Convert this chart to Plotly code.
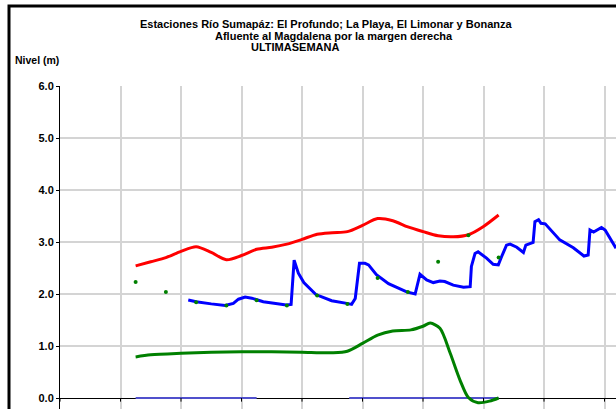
import plotly.graph_objects as go

# ---- data (x in day units along the week axis, y = level in metres) ----
red_x = [1.25, 1.5, 1.75, 2.0, 2.25, 2.5, 2.75, 3.0, 3.25, 3.5, 3.75, 4.0, 4.25,
         4.5, 4.75, 5.0, 5.25, 5.5, 5.75, 6.0, 6.25, 6.5, 6.75, 7.0, 7.25]
red_y = [2.54, 2.62, 2.70, 2.82, 2.91, 2.80, 2.66, 2.74, 2.86, 2.90, 2.96, 3.05, 3.15,
         3.18, 3.20, 3.32, 3.45, 3.41, 3.29, 3.20, 3.12, 3.10, 3.14, 3.30, 3.52]

green_x = [1.25, 1.5, 2.0, 2.5, 3.0, 3.5, 4.0, 4.5, 4.75, 5.0, 5.25, 5.5, 5.8,
           6.0, 6.12, 6.28, 6.45, 6.61, 6.75, 6.91, 7.1, 7.25]
green_y = [0.79, 0.83, 0.86, 0.88, 0.89, 0.89, 0.88, 0.87, 0.90, 1.05, 1.21, 1.29, 1.31,
           1.38, 1.44, 1.34, 0.86, 0.35, 0.01, -0.09, -0.06, 0.0]

dots_x = [1.25, 1.75, 2.25, 2.75, 3.25, 3.75, 4.25, 4.75, 5.25, 5.75, 6.25, 6.75, 7.25]
dots_y = [2.23, 2.04, 1.84, 1.78, 1.88, 1.78, 1.97, 1.81, 2.31, 2.04, 2.62, 3.13, 2.70]

blue_x = [2.12, 2.25, 2.5, 2.73, 2.865, 2.95, 3.06, 3.17, 3.36, 3.58, 3.74, 3.82,
          3.87, 3.94, 4.03, 4.23, 4.49, 4.74, 4.82, 4.88, 4.95, 5.04, 5.10, 5.23,
          5.43, 5.73, 5.87, 5.95, 6.06, 6.17, 6.28, 6.36, 6.50, 6.67, 6.78, 6.80,
          6.86, 6.91, 7.05, 7.16, 7.245, 7.30, 7.38, 7.44, 7.55, 7.66, 7.70, 7.82,
          7.85, 7.91, 7.95, 8.02, 8.13, 8.26, 8.485, 8.57, 8.66, 8.73, 8.76, 8.82,
          8.95, 9.01, 9.09, 9.19]
blue_y = [1.885, 1.85, 1.81, 1.78, 1.82, 1.90, 1.94, 1.92, 1.85, 1.82, 1.79, 1.80,
          2.65, 2.40, 2.22, 1.99, 1.87, 1.82, 1.80, 1.915, 2.59, 2.59, 2.56, 2.37,
          2.20, 2.04, 2.00, 2.38, 2.27, 2.22, 2.25, 2.24, 2.17, 2.13, 2.14, 2.53,
          2.78, 2.81, 2.69, 2.57, 2.56, 2.72, 2.94, 2.96, 2.90, 2.80, 2.94, 2.99,
          3.39, 3.43, 3.36, 3.35, 3.20, 3.04, 2.89, 2.81, 2.73, 2.75, 3.23, 3.19,
          3.28, 3.23, 3.07, 2.88]

zero_x = [1.25, 3.25, 3.26, 4.78, 7.25]
zero_y = [0.0, 0.0, None, 0.0, 0.0]

y_ticks = [0, 1, 2, 3, 4, 5, 6]
y_labels = ["0.0", "1.0", "2.0", "3.0", "4.0", "5.0", "6.0"]
x_grid = [0, 1, 2, 3, 4, 5, 6, 7, 8, 9]

title_lines = ["Estaciones Río Sumapáz: El Profundo; La Playa, El Limonar y Bonanza",
               "Afluente al Magdalena por la margen derecha",
               "ULTIMASEMANA"]
y_title = "Nivel (m)"

# ---- layout geometry ----
W, H = 616, 409
ML, MT, MR, MB = 60, 86, 0, 0
PW, PH = W - ML - MR, H - MT - MB


def px(xp):
    return (xp - ML) / PW


def py(yp):
    return (H - MB - yp) / PH


FONT = "Liberation Sans, Arial, sans-serif"

fig = go.Figure()
fig.add_trace(go.Scatter(x=zero_x, y=zero_y, mode="lines",
                         line=dict(color="#5050cc", width=2), connectgaps=False,
                         hoverinfo="skip"))
fig.add_trace(go.Scatter(x=green_x, y=green_y, mode="lines",
                         line=dict(color="#008000", width=3, shape="spline", smoothing=0.8)))
fig.add_trace(go.Scatter(x=red_x, y=red_y, mode="lines",
                         line=dict(color="#ff0000", width=3, shape="spline", smoothing=0.8)))
fig.add_trace(go.Scatter(x=blue_x, y=blue_y, mode="lines",
                         line=dict(color="#0000ff", width=3)))
fig.add_trace(go.Scatter(x=dots_x, y=dots_y, mode="markers",
                         marker=dict(color="#008000", size=4)))

shapes = []
# outer black frame (left + top visible)
shapes.append(dict(type="rect", xref="paper", yref="paper",
                   x0=px(9), x1=px(W + 20), y0=py(H + 20), y1=py(6),
                   line=dict(color="black", width=3), layer="above"))
# x-axis tick marks below the zero line
for g in x_grid:
    shapes.append(dict(type="line", xref="x", yref="y", x0=g, x1=g, y0=0, y1=-0.07,
                       line=dict(color="black", width=1)))

annotations = []
for txt, cx, cy in zip(title_lines, [326, 334, 295], [24, 36, 47.5]):
    annotations.append(dict(text="<b>%s</b>" % txt, xref="paper", yref="paper",
                            x=px(cx), y=py(cy), xanchor="center", yanchor="middle",
                            showarrow=False, font=dict(family=FONT, size=11, color="black")))
annotations.append(dict(text="<b>%s</b>" % y_title, xref="paper", yref="paper",
                        x=px(13), y=py(60), xanchor="left", yanchor="middle",
                        showarrow=False, font=dict(family=FONT, size=10.5, color="black")))

fig.update_layout(
    width=W, height=H,
    margin=dict(l=ML, r=MR, t=MT, b=MB, pad=0),
    paper_bgcolor="white", plot_bgcolor="white",
    showlegend=False,
    shapes=shapes, annotations=annotations,
    xaxis=dict(range=[0, PW / 60.5], tickvals=x_grid, showticklabels=False,
               showgrid=True, gridcolor="#d4d4d4", gridwidth=1.5,
               zeroline=False, showline=False, ticks=""),
    yaxis=dict(range=[-(H - MB - 398) / 52.0, 6.0], tickvals=y_ticks, ticktext=y_labels,
               showgrid=True, gridcolor="#d4d4d4", gridwidth=1.5,
               zeroline=True, zerolinecolor="black", zerolinewidth=1,
               showline=True, linecolor="black", linewidth=1,
               ticks="outside", ticklen=3, tickcolor="black",
               tickfont=dict(family=FONT, size=11, color="black", weight="bold")),
)

fig.write_html("out.html", config={"displayModeBar": False},
               post_script="document.body.style.margin='0';document.body.style.overflow='hidden';")
